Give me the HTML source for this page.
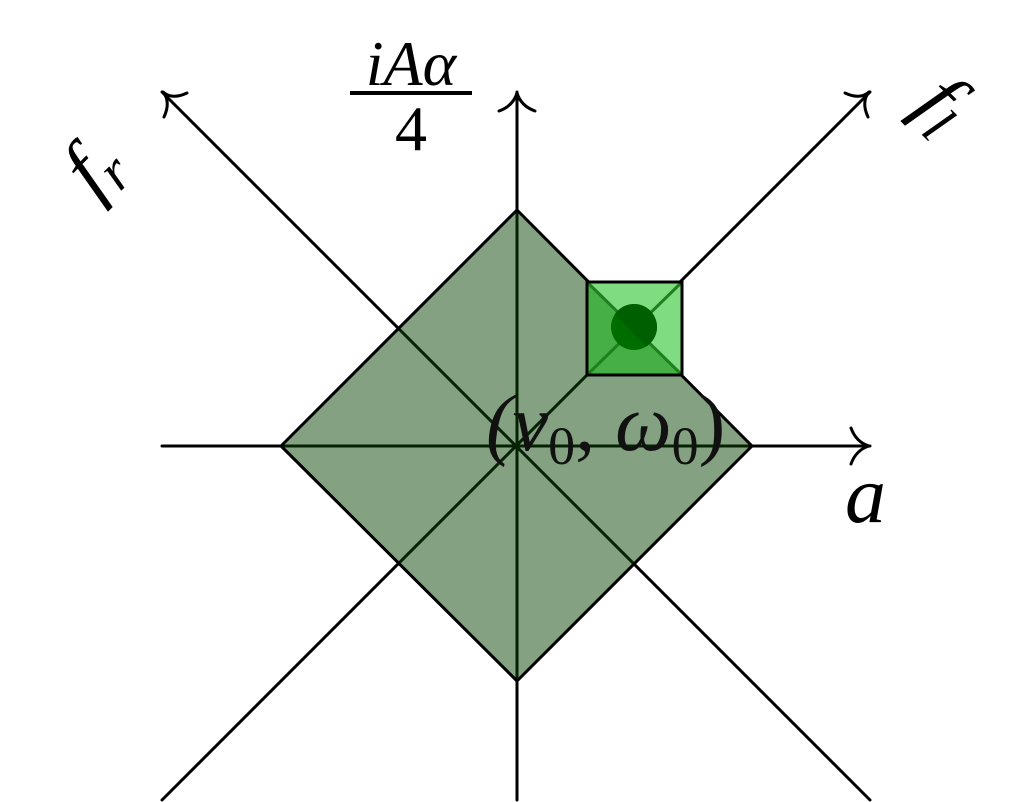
<!DOCTYPE html>
<html><head><meta charset="utf-8"><style>
html,body{margin:0;padding:0;background:#fff;width:1030px;height:802px;overflow:hidden}
svg text{font-family:"Liberation Serif",serif}
</style></head><body>
<svg width="1030" height="802" viewBox="0 0 1030 802">
<defs><clipPath id="half"><polygon points="560,260 720,260 720,420"/></clipPath></defs>
<g stroke="#000" stroke-width="3" fill="none" stroke-linecap="round" stroke-linejoin="round">
  <line x1="162" y1="446" x2="870" y2="446"/>
  <path d="M851,428 Q856,442 869,446 Q856,450 851,464"/>
  <line x1="517" y1="800" x2="517" y2="92"/>
  <path d="M499,111 Q513,106 517,93 Q521,106 535,111"/>
  <line x1="162" y1="800" x2="870" y2="92"/>
  <path d="M845,93 Q860,100 869,92 Q861,102 868,117"/>
  <line x1="870" y1="800" x2="162" y2="92"/>
  <path d="M164,117 Q171,102 163,92 Q172,100 187,93"/>
</g>
<polygon points="517,210 752,446 517,681 281,446" fill="rgb(10,70,5)" fill-opacity="0.5" stroke="#000" stroke-width="3" stroke-linejoin="round"/>
<g>
  <polygon points="587,282 682,282 682,375" fill="#80dc80"/>
  <polygon points="587,282 587,375 682,375" fill="#46b046"/>
  <line x1="587" y1="282" x2="682" y2="375" stroke="#1f801f" stroke-width="3"/>
  <line x1="587" y1="375" x2="682" y2="282" stroke="#1f801f" stroke-width="3"/>
  <circle cx="634" cy="327" r="23" fill="#006d00"/>
  <circle cx="634" cy="327" r="23" fill="#005f00" clip-path="url(#half)"/>
  <rect x="587" y="282" width="95" height="93" fill="none" stroke="#000" stroke-width="3"/>
</g>
<text x="486" y="450" font-size="80" font-style="italic" fill="#111">(<tspan>v</tspan><tspan font-size="54" font-style="normal" dy="14">0</tspan><tspan dy="-14" font-style="normal">, </tspan><tspan>ω</tspan><tspan font-size="54" font-style="normal" dy="14">0</tspan><tspan dy="-14" font-style="normal">)</tspan></text>
<text x="845" y="522" font-size="82" font-style="italic">a</text>
<g>
  <text x="411" y="85" font-size="64" font-style="italic" text-anchor="middle">iAα</text>
  <line x1="350" y1="93" x2="472" y2="93" stroke="#000" stroke-width="4"/>
  <text x="411" y="150" font-size="64" text-anchor="middle">4</text>
</g>
<text transform="translate(95,200) rotate(-45)" font-size="82" font-style="italic">f<tspan font-size="56" dy="12">r</tspan></text>
<text transform="translate(912,108) rotate(45)" font-size="82" font-style="italic">f<tspan font-size="56" dy="12">l</tspan></text>
</svg>
</body></html>
